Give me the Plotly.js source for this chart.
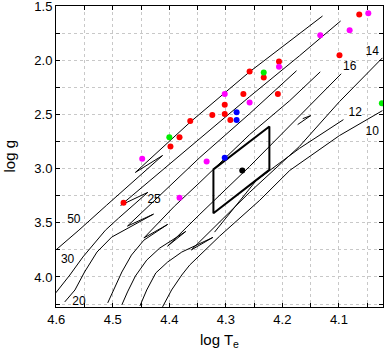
<!DOCTYPE html>
<html>
<head>
<meta charset="utf-8">
<script src="https://cdn.plot.ly/plotly-3.0.1.min.js"></script>
<style>
  body { margin: 0; background: #fff; }
  #plot { width: 385px; height: 354px; }
</style>
</head>
<body>
<div id="plot"></div>
<script>
// evolutionary tracks (log Te, log g)
var t1_x = [4.601, 4.560, 4.511, 4.463, 4.412, 4.460, 4.417, 4.362, 4.258, 4.187, 4.129];
var t1_y = [3.752, 3.568, 3.338, 3.118, 2.879, 3.035, 2.833, 2.566, 2.107, 1.822, 1.592];
var t2_x = [4.601, 4.576, 4.553, 4.513, 4.490, 4.438, 4.486, 4.417, 4.364, 4.258, 4.170, 4.097];
var t2_y = [4.147, 3.982, 3.816, 3.568, 3.458, 3.219, 3.338, 3.035, 2.796, 2.336, 1.960, 1.638];
var t3_x = [4.585, 4.567, 4.550, 4.528, 4.502, 4.474, 4.428, 4.474, 4.408, 4.346, 4.258, 4.175];
var t3_y = [4.230, 4.120, 3.954, 3.770, 3.632, 3.550, 3.420, 3.530, 3.200, 2.897, 2.493, 2.097];
var t4_x = [4.509, 4.498, 4.484, 4.467, 4.445, 4.403, 4.445, 4.391, 4.346, 4.258, 4.187, 4.133];
var t4_y = [4.239, 4.120, 3.954, 3.798, 3.660, 3.515, 3.640, 3.347, 3.127, 2.686, 2.373, 2.107];
var t5_x = [4.484, 4.474, 4.460, 4.440, 4.417, 4.371, 4.403, 4.346, 4.258, 4.170, 4.096];
var t5_y = [4.257, 4.138, 3.991, 3.844, 3.733, 3.580, 3.715, 3.421, 2.980, 2.511, 2.125];
var t6_x = [4.452, 4.440, 4.424, 4.403, 4.378, 4.323, 4.361, 4.311, 4.258, 4.170, 4.099, 4.023];
var t6_y = [4.267, 4.120, 3.963, 3.862, 3.770, 3.635, 3.750, 3.494, 3.219, 2.796, 2.382, 1.978];
var t7_x = [4.412, 4.396, 4.378, 4.364, 4.311, 4.240, 4.187, 4.099, 4.023];
var t7_y = [4.276, 4.120, 3.982, 3.890, 3.623, 3.292, 3.017, 2.695, 2.465];
var t8_x = [4.320, 4.246, 4.170, 4.092];
var t8_y = [3.586, 3.108, 2.814, 2.548];
var t9_x = [4.173, 4.150, 4.164];
var t9_y = [2.594, 2.511, 2.539];

// stars
var red_x = [4.481, 4.398, 4.382, 4.363, 4.258, 4.233, 4.269, 4.208, 4.302, 4.324, 4.302, 4.292, 4.064, 4.099, 4.206];
var red_y = [3.314, 2.796, 2.710, 2.560, 2.104, 2.159, 2.312, 2.312, 2.410, 2.505, 2.496, 2.551, 1.577, 1.953, 2.012];
var mag_x = [4.448, 4.302, 4.258, 4.334, 4.048, 4.133, 4.081, 4.206, 4.382];
var mag_y = [2.909, 2.312, 2.389, 2.934, 1.567, 1.770, 1.724, 2.061, 3.268];
var grn_x = [4.400, 4.233, 4.024];
var grn_y = [2.710, 2.113, 2.398];
var blu_x = [4.281, 4.281, 4.302];
var blu_y = [2.480, 2.551, 2.900];
var blk_x = [4.271];
var blk_y = [3.017];

// error box
var box_x = [4.322, 4.223, 4.223, 4.322, 4.322];
var box_y = [3.007, 2.612, 3.012, 3.412, 3.007];

// mass labels
var lab_text = ["50", "30", "20", "25", "16", "14", "12", "10"];
var lab_x = [4.569, 4.580, 4.560, 4.427, 4.081, 4.041, 4.071, 4.041];
var lab_y = [3.476, 3.844, 4.227, 3.292, 2.058, 1.923, 2.490, 2.658];

var tracks = [[t1_x, t1_y], [t2_x, t2_y], [t3_x, t3_y], [t4_x, t4_y], [t5_x, t5_y],
              [t6_x, t6_y], [t7_x, t7_y], [t8_x, t8_y], [t9_x, t9_y]];

var data = [];
tracks.forEach(function (t) {
    data.push({
        x: t[0], y: t[1], type: "scatter", mode: "lines",
        line: {color: "black", width: 1}, hoverinfo: "skip"
    });
});
data.push({x: box_x, y: box_y, type: "scatter", mode: "lines",
           line: {color: "black", width: 2}});

function dots(x, y, c) {
    return {x: x, y: y, type: "scatter", mode: "markers",
            marker: {color: c, size: 6}};
}
data.push(dots(red_x, red_y, "#ff0000"));
data.push(dots(mag_x, mag_y, "#ff00ff"));
data.push(dots(grn_x, grn_y, "#00ee00"));
data.push(dots(blu_x, blu_y, "#0000ff"));
data.push(dots(blk_x, blk_y, "#000000"));

data.push({x: lab_x, y: lab_y, text: lab_text, type: "scatter", mode: "text",
           textfont: {family: "Liberation Sans, Arial, sans-serif", size: 12, color: "black"}});

var axfont = {family: "Liberation Sans, Arial, sans-serif", size: 13, color: "black"};
var titfont = {family: "Liberation Sans, Arial, sans-serif", size: 15, color: "black"};

var layout = {
    width: 385, height: 354,
    margin: {l: 56, r: 2, t: 6, b: 47},
    showlegend: false,
    paper_bgcolor: "white",
    plot_bgcolor: "white",
    xaxis: {
        range: [4.6005, 4.022],
        tickvals: [4.6, 4.5, 4.4, 4.3, 4.2, 4.1],
        ticktext: ["4.6", "4.5", "4.4", "4.3", "4.2", "4.1"],
        ticklabeloverflow: "allow",
        ticks: "inside", ticklen: 4, tickcolor: "black",
        showgrid: true, gridcolor: "#c8c8c8", griddash: "dot", gridwidth: 1,
        minor: {dtick: 0.05, tick0: 4.0, ticks: "inside", ticklen: 4, tickcolor: "black",
                showgrid: true, gridcolor: "#c8c8c8", griddash: "dot"},
        showline: true, linecolor: "black", linewidth: 1, mirror: "allticks",
        zeroline: false,
        tickfont: axfont,
        title: {text: "log T<sub>e</sub>", font: titfont, standoff: 8}
    },
    yaxis: {
        range: [4.277, 1.4995],
        tickvals: [1.5, 2.0, 2.5, 3.0, 3.5, 4.0],
        ticktext: ["1.5", "2.0", "2.5", "3.0", "3.5", "4.0"],
        ticklabeloverflow: "allow",
        ticks: "inside", ticklen: 4, tickcolor: "black",
        showgrid: true, gridcolor: "#c8c8c8", griddash: "dot", gridwidth: 1,
        minor: {dtick: 0.25, tick0: 1.5, ticks: "inside", ticklen: 4, tickcolor: "black",
                showgrid: true, gridcolor: "#c8c8c8", griddash: "dot"},
        showline: true, linecolor: "black", linewidth: 1, mirror: "allticks",
        zeroline: false,
        tickfont: axfont
    },
    annotations: [{
        text: "log g", textangle: -90, showarrow: false,
        xref: "paper", yref: "paper", x: 0, y: 0.5, xanchor: "center", yanchor: "middle",
        xshift: -47, font: titfont
    }]
};

Plotly.newPlot("plot", data, layout, {staticPlot: true});
</script>
</body>
</html>
